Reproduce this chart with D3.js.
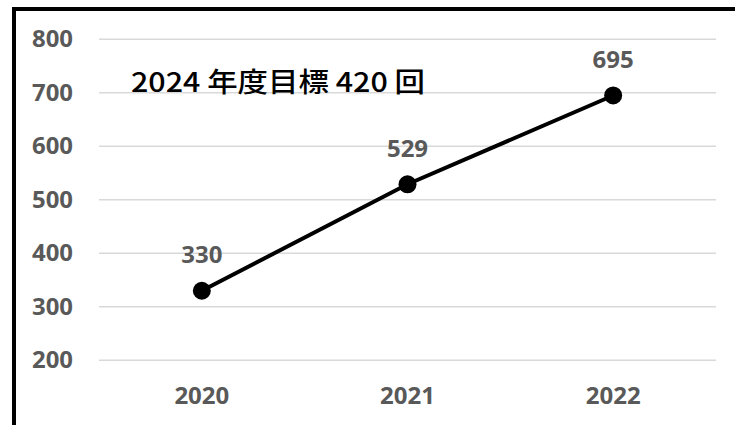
<!DOCTYPE html>
<html>
<head>
<meta charset="utf-8">
<script src="https://cdn.jsdelivr.net/npm/d3@7"></script>
<style>
  body { margin: 0; background: #fff; }
  svg { display: block; }
</style>
</head>
<body>
<script>
const years = ["2020", "2021", "2022"];
const counts = [330, 529, 695];
const yTicks = [200, 300, 400, 500, 600, 700, 800];
const note = "2024 年度目標 420 回";

const width = 735,
  height = 425,
  plot = { left: 99, right: 716, top: 39.3, bottom: 360.3 };

const svg = d3.select("body").append("svg")
  .attr("width", width)
  .attr("height", height);

// frame (top + left only, the rest is cropped off)
svg.append("path")
  .attr("d", `M14,${height} V9 H${width}`)
  .attr("fill", "none")
  .attr("stroke", "#000")
  .attr("stroke-width", 4);

const x = d3.scaleBand()
  .domain(years)
  .range([plot.left, plot.right]);

const y = d3.scaleLinear()
  .domain([200, 800])
  .range([plot.bottom, plot.top]);

const labelFont = "'Open Sans', sans-serif";
const labelSize = "24px";

// gridlines
svg.append("g")
  .attr("class", "grid")
  .selectAll("line")
  .data(yTicks)
  .join("line")
    .attr("x1", plot.left)
    .attr("x2", plot.right)
    .attr("y1", d => y(d))
    .attr("y2", d => y(d))
    .attr("stroke", "#d9d9d9")
    .attr("stroke-width", 1.5);

// y axis labels
const yAxis = svg.append("g")
  .attr("transform", `translate(73,0)`)
  .call(d3.axisLeft(y).tickValues(yTicks).tickSize(0).tickPadding(0));
yAxis.select(".domain").remove();
yAxis.selectAll("text")
  .attr("fill", "#595959")
  .attr("textLength", 41)
  .attr("lengthAdjust", "spacingAndGlyphs")
  .style("font-family", labelFont)
  .style("font-weight", 700)
  .style("font-size", labelSize);

// x axis labels
const xAxis = svg.append("g")
  .attr("transform", `translate(0,387)`)
  .call(d3.axisBottom(x).tickSize(0).tickPadding(0));
xAxis.select(".domain").remove();
xAxis.selectAll("text")
  .attr("fill", "#595959")
  .style("font-family", labelFont)
  .style("font-weight", 700)
  .style("font-size", labelSize);

const pts = years.map((yr, i) => ({ yr, v: counts[i] }));
const cx = d => x(d.yr) + x.bandwidth() / 2;

svg.append("path")
  .datum(pts)
  .attr("fill", "none")
  .attr("stroke", "#000")
  .attr("stroke-width", 4)
  .attr("d", d3.line().x(cx).y(d => y(d.v)));

svg.append("g")
  .selectAll("circle")
  .data(pts)
  .join("circle")
    .attr("cx", cx)
    .attr("cy", d => y(d.v))
    .attr("r", 9)
    .attr("fill", "#000");

svg.append("g")
  .selectAll("text")
  .data(pts)
  .join("text")
    .attr("x", cx)
    .attr("y", d => y(d.v) - 36)
    .attr("dy", "0.35em")
    .attr("text-anchor", "middle")
    .attr("fill", "#595959")
    .style("font-family", labelFont)
    .style("font-weight", 700)
    .style("font-size", labelSize)
    .text(d => d.v);

svg.append("text")
  .attr("x", 131)
  .attr("y", 92)
  .attr("textLength", 294)
  .attr("lengthAdjust", "spacingAndGlyphs")
  .attr("fill", "#000")
  .style("font-family", "'Noto Sans CJK JP', sans-serif")
  .style("font-weight", 500)
  .style("font-size", "27px")
  .text(note);
</script>
</body>
</html>
